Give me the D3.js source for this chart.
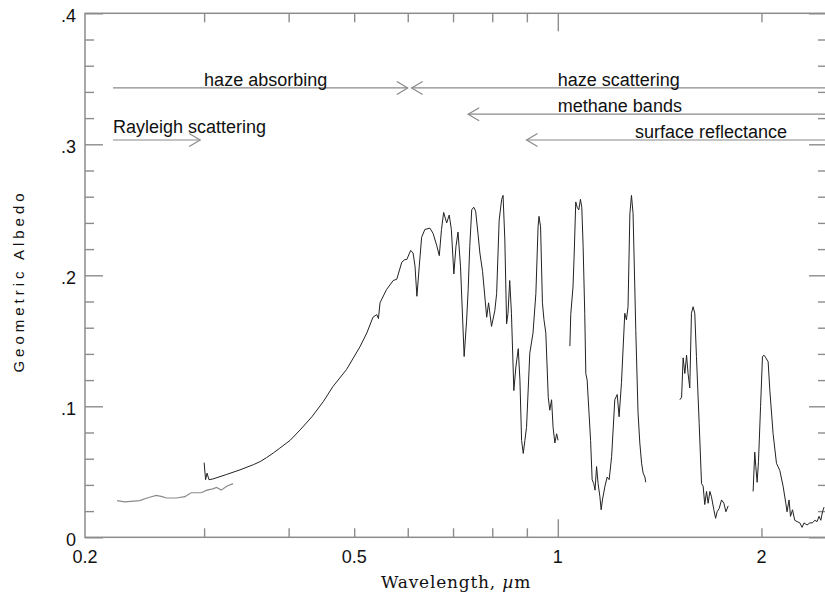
<!DOCTYPE html>
<html>
<head>
<meta charset="utf-8">
<script src="https://cdn.jsdelivr.net/npm/d3@7"></script>
<style>
  body { margin: 0; background: #fff; }
  svg { display: block; }
</style>
</head>
<body>
<svg id="chart" width="825" height="594"></svg>
<script>
// Titan geometric albedo spectrum: [wavelength (µm), albedo] per observed segment
const uvSpectrum = [
  [0.223,0.028],[0.229,0.027],[0.241,0.028],[0.247,0.030],[0.255,0.032],[0.260,0.031],
  [0.264,0.030],[0.273,0.030],[0.281,0.031],[0.287,0.034],[0.292,0.034],[0.297,0.034],
  [0.303,0.036],[0.309,0.037],[0.313,0.038],[0.318,0.036],[0.324,0.039],[0.331,0.041]
];
const visibleSpectrum = [
  [0.300,0.057],[0.3015,0.044],[0.303,0.049],[0.305,0.044],[0.309,0.0445],[0.324,0.048],
  [0.339,0.0515],[0.355,0.0555],[0.363,0.0578],[0.371,0.0608],[0.380,0.0645],[0.388,0.068],
  [0.402,0.074],[0.416,0.082],[0.433,0.092],[0.450,0.1035],[0.465,0.115],[0.487,0.128],
  [0.510,0.1455],[0.522,0.156],[0.533,0.168],[0.540,0.170],[0.543,0.167],[0.546,0.179],
  [0.558,0.189],[0.571,0.196],[0.578,0.197],[0.588,0.210],[0.594,0.212],[0.598,0.212],
  [0.606,0.219],[0.611,0.217],[0.615,0.207],[0.619,0.184],[0.624,0.207],[0.629,0.229],
  [0.636,0.235],[0.647,0.236],[0.654,0.232],[0.662,0.223],[0.668,0.215],[0.673,0.235],
  [0.678,0.248],[0.685,0.240],[0.691,0.246],[0.696,0.235],[0.702,0.201],[0.707,0.222],
  [0.712,0.233],[0.718,0.207],[0.727,0.138],[0.733,0.165],[0.737,0.189],[0.741,0.222],
  [0.746,0.250],[0.751,0.252],[0.756,0.249],[0.762,0.232],[0.767,0.217],[0.774,0.203],
  [0.785,0.168],[0.790,0.179],[0.798,0.161],[0.807,0.173],[0.812,0.186],[0.819,0.242],
  [0.826,0.258],[0.830,0.261],[0.835,0.227],[0.840,0.163],[0.844,0.171],[0.849,0.196],
  [0.854,0.171],[0.861,0.112],[0.867,0.130],[0.874,0.144],[0.879,0.120],[0.884,0.074],
  [0.889,0.064],[0.894,0.074],[0.899,0.084],[0.909,0.1405],[0.919,0.156],[0.928,0.186],
  [0.935,0.237],[0.938,0.245],[0.943,0.237],[0.949,0.179],[0.954,0.166],[0.960,0.156],
  [0.968,0.107],[0.973,0.097],[0.979,0.105],[0.984,0.084],[0.990,0.072],[0.996,0.079],
  [1.001,0.074]
];
const jBandSpectrum = [
  [1.042,0.146],[1.045,0.170],[1.053,0.191],[1.057,0.214],[1.063,0.256],[1.068,0.252],
  [1.074,0.250],[1.080,0.258],[1.085,0.252],[1.090,0.222],[1.096,0.171],[1.100,0.125],
  [1.105,0.120],[1.112,0.095],[1.118,0.074],[1.124,0.044],[1.130,0.041],[1.135,0.036],
  [1.141,0.054],[1.147,0.041],[1.154,0.031],[1.159,0.021],[1.164,0.0285],[1.174,0.039],
  [1.183,0.046],[1.191,0.044],[1.201,0.0615],[1.214,0.105],[1.224,0.109],[1.232,0.092],
  [1.242,0.118],[1.256,0.171],[1.263,0.166],[1.270,0.176],[1.278,0.247],[1.285,0.261],
  [1.292,0.247],[1.304,0.158],[1.314,0.095],[1.322,0.072],[1.330,0.0565],[1.337,0.049],
  [1.345,0.046],[1.349,0.042]
];
const hBandSpectrum = [
  [1.515,0.105],[1.524,0.107],[1.532,0.137],[1.541,0.125],[1.550,0.139],[1.558,0.125],
  [1.567,0.114],[1.576,0.171],[1.585,0.176],[1.594,0.171],[1.603,0.138],[1.618,0.087],
  [1.631,0.041],[1.640,0.039],[1.649,0.025],[1.659,0.035],[1.668,0.026],[1.678,0.035],
  [1.687,0.031],[1.701,0.021],[1.711,0.0145],[1.720,0.0195],[1.732,0.022],[1.746,0.0285],
  [1.760,0.026],[1.772,0.0195],[1.786,0.024]
];
const kBandSpectrum = [
  [1.944,0.035],[1.955,0.065],[1.962,0.054],[1.971,0.042],[1.980,0.058],[1.994,0.100],
  [2.007,0.138],[2.018,0.139],[2.030,0.137],[2.046,0.134],[2.058,0.112],[2.081,0.079],
  [2.105,0.0565],[2.129,0.051],[2.153,0.039],[2.173,0.026],[2.182,0.0195],[2.197,0.0285],
  [2.208,0.016],[2.223,0.021],[2.240,0.013],[2.258,0.012],[2.279,0.011],[2.297,0.0076],
  [2.312,0.011],[2.336,0.0094],[2.358,0.011],[2.379,0.011],[2.398,0.013],[2.417,0.012],
  [2.433,0.016],[2.448,0.013],[2.462,0.0195],[2.475,0.023]
];

// Axis ticks and labels
const xMinorTicks = [0.3, 0.4, 0.5, 0.6, 0.7, 0.8, 0.9, 2];
const xMajorTicks = [1];
const xLabelValues = [0.2, 0.5, 1, 2];
const xLabelText = ["0.2", "0.5", "1", "2"];
const yMinorTicks = d3.range(0.02, 0.4, 0.02).filter(v => Math.abs(v * 10 - Math.round(v * 10)) > 1e-6);
const yMajorTicks = [0, 0.1, 0.2, 0.3, 0.4];
const yLabelText = ["0", ".1", ".2", ".3", ".4"];

// Process regions: arrow spans (µm) at a given albedo level
const regionArrows = [
  { from: 0.22,  to: 0.60,  level: 0.343,  head: "end" },
  { from: 0.608, to: 2.6,   level: 0.343,  head: "start" },
  { from: 0.737, to: 2.6,   level: 0.323,  head: "start" },
  { from: 0.899, to: 2.6,   level: 0.3033, head: "start" },
  { from: 0.22,  to: 0.296, level: 0.3033, head: "end" }
];
const regionLabels = [
  { text: "haze absorbing",      at: 0.30, level: 0.3445 },
  { text: "haze scattering",     at: 1.00, level: 0.3445 },
  { text: "methane bands",       at: 1.00, level: 0.325 },
  { text: "surface reflectance", at: 1.30, level: 0.305 },
  { text: "Rayleigh scattering", at: 0.22, level: 0.309 }
];

const svg = d3.select("#chart");
const x = d3.scaleLog().domain([0.2, 2.5]).range([85, 827]);
const y = d3.scaleLinear().domain([0, 0.4]).range([537.3, 13.3]);

const axisColor = "#8c8c8c";
const sans = "'Liberation Sans', Arial, Helvetica, sans-serif";

// Clip for data
svg.append("defs").append("clipPath").attr("id", "plotClip")
  .append("rect").attr("x", x(0.2)).attr("y", y(0.4))
  .attr("width", x(2.5) - x(0.2)).attr("height", y(0) - y(0.4));

// Frame
svg.append("rect")
  .attr("x", x(0.2)).attr("y", y(0.4))
  .attr("width", x(2.5) - x(0.2)).attr("height", y(0) - y(0.4))
  .attr("fill", "none").attr("stroke", axisColor).attr("stroke-width", 1.5);

function styleAxis(g) {
  g.select(".domain").remove();
  g.selectAll(".tick line").attr("stroke", axisColor).attr("stroke-width", 1.4);
  g.selectAll(".tick text").remove();
}

// Bottom / top ticks (pointing inward)
svg.append("g").attr("transform", `translate(0,${y(0)})`)
  .call(d3.axisBottom(x).tickValues(xMinorTicks).tickSize(-9).tickFormat("")).call(styleAxis);
svg.append("g").attr("transform", `translate(0,${y(0)})`)
  .call(d3.axisBottom(x).tickValues(xMajorTicks).tickSize(-18).tickFormat("")).call(styleAxis);
svg.append("g").attr("transform", `translate(0,${y(0.4)})`)
  .call(d3.axisTop(x).tickValues(xMinorTicks).tickSize(-9).tickFormat("")).call(styleAxis);
svg.append("g").attr("transform", `translate(0,${y(0.4)})`)
  .call(d3.axisTop(x).tickValues(xMajorTicks).tickSize(-18).tickFormat("")).call(styleAxis);

// Left / right ticks
svg.append("g").attr("transform", `translate(${x(0.2)},0)`)
  .call(d3.axisLeft(y).tickValues(yMinorTicks).tickSize(-9).tickFormat("")).call(styleAxis);
svg.append("g").attr("transform", `translate(${x(0.2)},0)`)
  .call(d3.axisLeft(y).tickValues(yMajorTicks).tickSize(-18).tickFormat("")).call(styleAxis);
svg.append("g").attr("transform", `translate(${x(2.5)},0)`)
  .call(d3.axisRight(y).tickValues(yMinorTicks).tickSize(-9).tickFormat("")).call(styleAxis);
svg.append("g").attr("transform", `translate(${x(2.5)},0)`)
  .call(d3.axisRight(y).tickValues(yMajorTicks).tickSize(-18).tickFormat("")).call(styleAxis);

// Tick labels
svg.append("g").selectAll("text").data(xLabelValues).join("text")
  .attr("x", d => x(d)).attr("y", y(0) + 25.4)
  .attr("text-anchor", "middle")
  .attr("font-family", sans).attr("font-size", 18).attr("fill", "#111")
  .text((d, i) => xLabelText[i]);
svg.append("g").selectAll("text").data(yMajorTicks).join("text")
  .attr("x", 76).attr("y", d => y(d) + 8.5)
  .attr("text-anchor", "end")
  .attr("font-family", sans).attr("font-size", 18).attr("fill", "#111")
  .text((d, i) => yLabelText[i]);

// Axis titles
svg.append("text")
  .attr("x", 456).attr("y", 588)
  .attr("text-anchor", "middle")
  .attr("font-family", "'DejaVu Serif', 'Liberation Serif', serif")
  .attr("font-size", 17).attr("letter-spacing", 0.8).attr("fill", "#111")
  .html('Wavelength, <tspan font-style="italic">µ</tspan>m');
svg.append("text")
  .attr("transform", `translate(24,281) rotate(-90)`)
  .attr("text-anchor", "middle")
  .attr("font-family", sans)
  .attr("font-size", 15).attr("letter-spacing", 4).attr("fill", "#111")
  .text("Geometric Albedo");

// Spectrum curves
const line = d3.line().x(d => x(d[0])).y(d => y(d[1]));
const plot = svg.append("g").attr("clip-path", "url(#plotClip)");
plot.append("path").datum(uvSpectrum)
  .attr("d", line).attr("fill", "none").attr("stroke", "#8a8a8a").attr("stroke-width", 1.2);
[visibleSpectrum, jBandSpectrum, hBandSpectrum, kBandSpectrum].forEach(seg => {
  plot.append("path").datum(seg)
    .attr("d", line).attr("fill", "none").attr("stroke", "#222")
    .attr("stroke-width", 1).attr("stroke-linejoin", "round");
});

// Region arrows
const arrowColor = "#8a8a8a";
const arrows = svg.append("g").attr("stroke", arrowColor).attr("stroke-width", 1.2).attr("fill", "none");
regionArrows.forEach(a => {
  const yy = y(a.level);
  arrows.append("line").attr("x1", x(a.from)).attr("x2", x(a.to)).attr("y1", yy).attr("y2", yy);
  const tip = a.head === "end" ? x(a.to) : x(a.from);
  const dir = a.head === "end" ? -1 : 1;
  arrows.append("path")
    .attr("d", `M${tip + dir * 11},${yy - 6.5}L${tip},${yy}L${tip + dir * 11},${yy + 6.5}`);
});

// Region labels
svg.append("g").selectAll("text").data(regionLabels).join("text")
  .attr("x", d => x(d.at)).attr("y", d => y(d.level))
  .attr("font-family", sans).attr("font-size", 18).attr("fill", "#111")
  .text(d => d.text);
</script>
</body>
</html>
